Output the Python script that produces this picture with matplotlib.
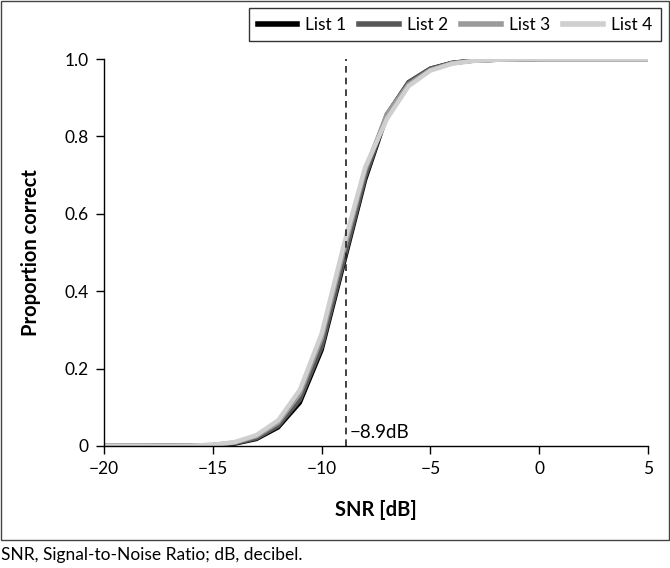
import matplotlib
matplotlib.use("Agg")
import matplotlib.pyplot as plt
from matplotlib.patches import Rectangle

plt.rcParams['font.family'] = ['Lato', 'DejaVu Sans']

snr = list(range(-20, 6))
list1 = [0, 0, 0, 0.0005, 0.001, 0.002, 0.006, 0.018, 0.048, 0.112, 0.248, 0.468, 0.688, 0.855, 0.94, 0.975, 0.99, 0.996, 0.998, 0.999, 1, 1, 1, 1, 1, 1]
list2 = [0, 0, 0, 0.0005, 0.001, 0.002, 0.007, 0.02, 0.052, 0.12, 0.256, 0.476, 0.695, 0.857, 0.94, 0.975, 0.99, 0.996, 0.998, 0.999, 1, 1, 1, 1, 1, 1]
list3 = [0, 0, 0, 0.0005, 0.001, 0.003, 0.009, 0.025, 0.06, 0.135, 0.278, 0.5, 0.712, 0.858, 0.935, 0.972, 0.989, 0.996, 0.998, 0.999, 1, 1, 1, 1, 1, 1]
list4 = [0, 0, 0, 0.0005, 0.001, 0.003, 0.01, 0.028, 0.066, 0.145, 0.29, 0.515, 0.72, 0.845, 0.93, 0.97, 0.988, 0.995, 0.998, 0.999, 1, 1, 1, 1, 1, 1]
series = [("List 1", list1, "#000000"), ("List 2", list2, "#585858"),
          ("List 3", list3, "#9a9a9a"), ("List 4", list4, "#cfcfcf")]
threshold = -8.9
xticks = [-20, -15, -10, -5, 0, 5]
yticks = [0, 0.2, 0.4, 0.6, 0.8, 1.0]
yticklabels = ["0", "0.2", "0.4", "0.6", "0.8", "1.0"]

fig = plt.figure(figsize=(6.7, 5.68), dpi=100)
ax = fig.add_axes([104/670, 1-446/568, (648-104)/670, (446-59)/568])

handles = []
for name, vals, col in series:
    h, = ax.plot(snr, vals, color=col, lw=3.2, label=name, solid_joinstyle='miter')
    handles.append(h)

ax.axvline(threshold, color='#222222', lw=1.2, ls=(0, (4, 3)))
ax.text(threshold + 0.2, 0.035, "\u22128.9dB", fontsize=13.5, ha='left', va='center')

ax.set_xlim(-20, 5)
ax.set_ylim(0, 1.0)
ax.set_xticks(xticks)
ax.set_xticklabels([("\u2212" + str(-t)) if t < 0 else str(t) for t in xticks])
ax.set_yticks(yticks)
ax.set_yticklabels(yticklabels)
ax.tick_params(direction='out', length=6, width=1, labelsize=12.5, colors='#000000', pad=5)
ax.spines['top'].set_visible(False)
ax.spines['right'].set_visible(False)
for s in ['left', 'bottom']:
    ax.spines[s].set_color('#000000')
    ax.spines[s].set_linewidth(1)
ax.set_xlabel("SNR [dB]", fontsize=14.5, fontweight='bold', labelpad=16)
ax.set_ylabel("Proportion correct", fontsize=14.5, fontweight='bold', labelpad=17)

leg = fig.legend(handles=handles, loc='upper right', bbox_to_anchor=(661/670, 1-8/568),
                 ncol=4, fontsize=12.5, frameon=True, fancybox=False, edgecolor='#000000',
                 handlelength=2.3, columnspacing=0.75, handletextpad=0.45, borderpad=0.5,
                 borderaxespad=0)
leg.get_frame().set_linewidth(1)
for lh in leg.get_lines():
    lh.set_linewidth(4)

fig.add_artist(Rectangle((0.5/670, 1-540/568), 668/670, 539.5/568, transform=fig.transFigure,
                         fill=False, edgecolor='#444444', lw=1))
fig.text(1/670, 1-555/568, "SNR, Signal-to-Noise Ratio; dB, decibel.", fontsize=12.5,
         ha='left', va='center')

fig.savefig("out.png", dpi=100)
